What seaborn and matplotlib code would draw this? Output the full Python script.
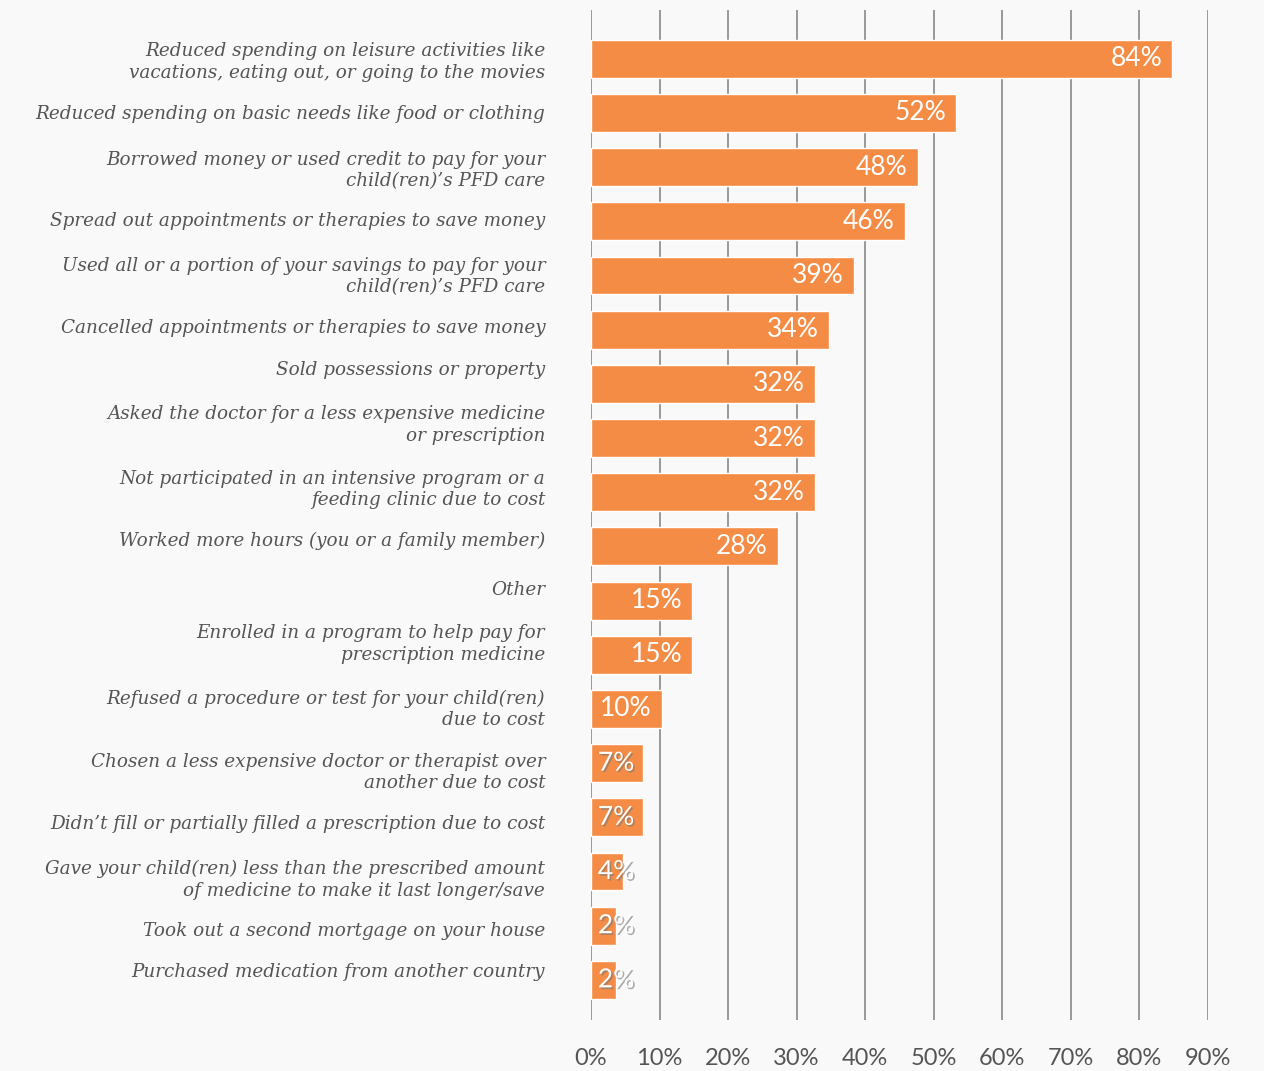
import matplotlib

matplotlib.use("Agg")
import matplotlib.pyplot as plt
import matplotlib.patheffects as pe
from matplotlib.transforms import ScaledTranslation
import seaborn as sns

categories = [
    "Reduced spending on leisure activities like\nvacations, eating out, or going to the movies",
    "Reduced spending on basic needs like food or clothing",
    "Borrowed money or used credit to pay for your\nchild(ren)\u2019s PFD care",
    "Spread out appointments or therapies to save money",
    "Used all or a portion of your savings to pay for your\nchild(ren)\u2019s PFD care",
    "Cancelled appointments or therapies to save money",
    "Sold possessions or property",
    "Asked the doctor for a less expensive medicine\nor prescription",
    "Not participated in an intensive program or a\nfeeding clinic due to cost",
    "Worked more hours (you or a family member)",
    "Other",
    "Enrolled in a program to help pay for\nprescription medicine",
    "Refused a procedure or test for your child(ren)\ndue to cost",
    "Chosen a less expensive doctor or therapist over\nanother due to cost",
    "Didn\u2019t fill or partially filled a prescription due to cost",
    "Gave your child(ren) less than the prescribed amount\nof medicine to make it last longer/save",
    "Took out a second mortgage on your house",
    "Purchased medication from another country",
]
values = [84.8, 53.3, 47.7, 45.8, 38.4, 34.7, 32.7, 32.7, 32.7, 27.3,
          14.8, 14.8, 10.3, 7.6, 7.6, 4.6, 3.6, 3.6]
value_labels = ["84%", "52%", "48%", "46%", "39%", "34%", "32%", "32%", "32%",
                "28%", "15%", "15%", "10%", "7%", "7%", "4%", "2%", "2%"]
x_ticks = [0, 10, 20, 30, 40, 50, 60, 70, 80, 90]

# the category labels in the original don't sit exactly on their bars (pixels, up = +)
label_nudge_px = [0.5, 1, 0.5, 2, 3, 4, 16, 17, 6.5, 8, 13, 14.5, 3.5, -5.5, -5, -4.5, -3, 10]

BG = "#f8f9f8"
BAR = "#f58c45"
TEXT = "#555555"
GRID = "#7f7f7f"


def main() -> None:
    sns.set_theme(style="white")
    fig = plt.figure(figsize=(12.64, 10.71), dpi=100, facecolor=BG)
    ax = fig.add_axes([591 / 1264, 1 - 1020 / 1071, (1208 - 591) / 1264, 1010 / 1071])
    ax.set_facecolor(BG)

    sns.barplot(x=values, y=categories, orient="h", color=BAR, saturation=1,
                width=0.7, ax=ax, zorder=3)

    for t in x_ticks:
        ax.axvline(t, color=GRID, lw=1.1, zorder=1)

    ax.set_xlim(0, 90)
    ax.set_ylim(17.74, -0.9)
    ax.set_xticks(x_ticks)
    ax.set_xticklabels([f"{t}%" for t in x_ticks], fontsize=17, color=TEXT,
                       family="Lato")
    ax.tick_params(axis="x", length=0, pad=20)
    ax.tick_params(axis="y", length=0, pad=33)
    for lab, dy in zip(ax.get_yticklabels(), label_nudge_px):
        lab.set_fontfamily("DejaVu Serif")
        lab.set_fontstyle("italic")
        lab.set_fontsize(13.2)
        lab.set_color(TEXT)
        lab.set_linespacing(1.25)
        lab.set_horizontalalignment("right")
        lab.set_transform(lab.get_transform() + ScaledTranslation(0, dy / 100, fig.dpi_scale_trans))
    for s in ax.spines.values():
        s.set_visible(False)
    ax.set_xlabel("")
    ax.set_ylabel("")

    shadow = [pe.withSimplePatchShadow(offset=(1.2, -1.2), shadow_rgbFace="#777777", alpha=0.6)]
    for i, (v, lab) in enumerate(zip(values, value_labels)):
        if v < 9:
            ax.text(1.0, i, lab, ha="left", va="center", color="white",
                    fontsize=19, family="Lato", zorder=4, path_effects=shadow)
        else:
            ax.text(v - 1.5, i, lab, ha="right", va="center", color="white",
                    fontsize=19, family="Lato", zorder=4)

    fig.savefig("out.png", dpi=100, facecolor=BG)
    plt.close(fig)


if __name__ == "__main__":
    main()
